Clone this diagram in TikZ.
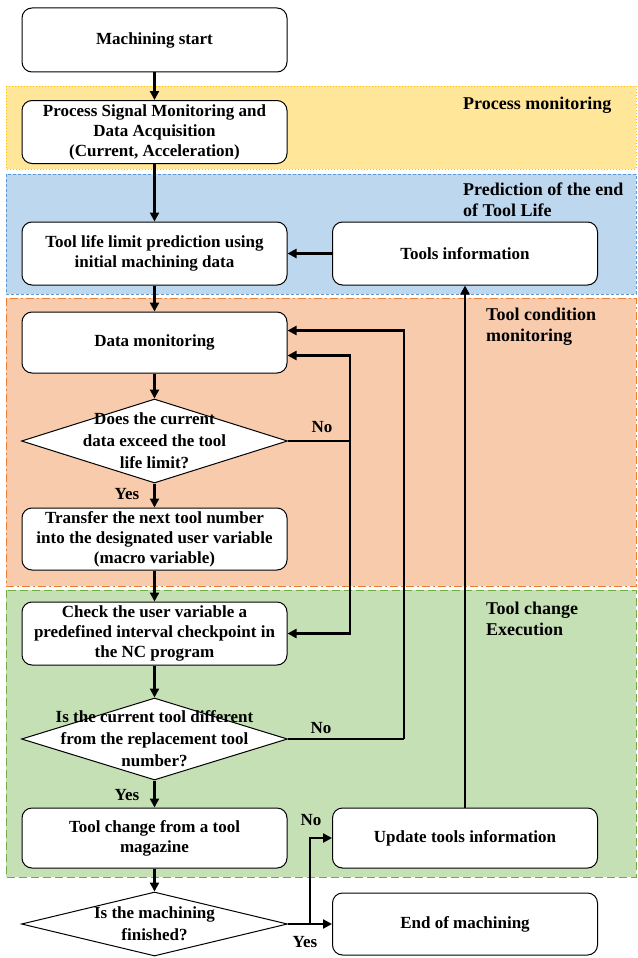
\documentclass[tikz,border=0pt]{standalone}
\usepackage{fontspec}
\setmainfont{Liberation Serif}
\usetikzlibrary{arrows.meta,shapes.geometric}
\definecolor{pmfill}{HTML}{FFE699}
\definecolor{pmline}{HTML}{FFC000}
\definecolor{plfill}{HTML}{BDD7EE}
\definecolor{plline}{HTML}{5B9BD5}
\definecolor{tcfill}{HTML}{F8CBAD}
\definecolor{tcline}{HTML}{ED7D31}
\definecolor{tefill}{HTML}{C5E0B4}
\definecolor{teline}{HTML}{70AD47}

\begin{document}
\begin{tikzpicture}[x=1pt,y=-1pt,
        box/.style={draw,line width=1pt,rounded corners=10pt,fill=white,minimum width=265pt,minimum height=63pt,
            align=center,inner sep=1pt,font=\fontsize{17}{20}\selectfont\bfseries},
        decision/.style={draw,line width=1pt,diamond,fill=white,minimum width=266pt,minimum height=84pt,inner sep=0pt},
        dtext/.style={align=center,font=\fontsize{17}{22}\selectfont\bfseries},
        tag/.style={font=\fontsize{17}{20}\selectfont\bfseries},
        zone/.style={line width=1pt},
        zonetext/.style={align=left,anchor=west,inner sep=0pt,font=\fontsize{18}{21}\selectfont\bfseries},
        flow/.style={line width=2.2pt,-{Triangle[length=9pt,width=9pt]}},
        line/.style={line width=2.2pt}]
            \useasboundingbox (0,0) rectangle (637,958);

            \draw[zone,fill=pmfill,draw=pmline,dotted] (6,86) rectangle (636,169);
            \draw[zone,fill=plfill,draw=plline,dash pattern=on 3pt off 2pt] (6,174) rectangle (636,294);
            \draw[zone,fill=tcfill,draw=tcline,dash pattern=on 8pt off 3pt on 2pt off 3pt] (6,298) rectangle (636,586);
            \draw[zone,fill=tefill,draw=teline,dash pattern=on 8pt off 4pt] (6,590) rectangle (636,877);

            \node[zonetext] (pmlabel) at (463,105) {Process monitoring};
            \node[zonetext] (pllabel) at (463,200) {Prediction of the end\\of Tool Life};
            \node[zonetext] (tclabel) at (486,327) {Tool condition\\monitoring};
            \node[zonetext] (telabel) at (486,619) {Tool change\\Execution};

            \node[box,minimum height=64pt] (start) at (154.5,40) {Machining start};
            \node[box] (psm) at (154.5,132) {Process Signal Monitoring and\\Data Acquisition\\(Current, Acceleration)};
            \node[box] (pred) at (154.5,253.5) {Tool life limit prediction using\\initial machining data};
            \node[box] (tinfo) at (465,253.5) {Tools information};
            \node[box,minimum height=61pt] (dmon) at (154.5,342.5) {Data monitoring};
            \node[decision] (d1) at (154.5,441) {};
            \node[dtext] (d1txt) at (154.5,441) {Does the current\\data exceed the tool\\life limit?};
            \node[box,minimum height=62pt] (xfer) at (154.5,539) {Transfer the next tool number\\into the designated user variable\\(macro variable)};
            \node[box] (chk) at (154.5,633.5) {Check the user variable a\\predefined interval checkpoint in\\the NC program};
            \node[decision,minimum height=82pt] (d2) at (154.5,739) {};
            \node[dtext] (d2txt) at (154.5,739) {Is the current tool different\\from the replacement tool\\number?};
            \node[box,minimum height=60pt] (tchg) at (154.5,838) {Tool change from a tool\\magazine};
            \node[box,minimum height=60pt] (upd) at (465,838) {Update tools information};
            \node[decision,minimum height=64pt] (d3) at (154.5,924) {};
            \node[dtext] (d3txt) at (154.5,924) {Is the machining\\finished?};
            \node[box,minimum height=62pt] (endm) at (465,924) {End of machining};

            \coordinate (j1) at (350,441);
            \coordinate (j2) at (404,739);
            \coordinate (j3) at (310,924);

            \draw[flow] (start) -- (psm);
            \draw[flow] (psm) -- (pred);
            \draw[flow] (tinfo) -- (pred);
            \draw[flow] (pred) -- (dmon);
            \draw[flow] (dmon) -- (d1);
            \draw[flow] (d1) -- (xfer);
            \draw[flow] (xfer) -- (chk);
            \draw[flow] (chk) -- (d2);
            \draw[flow] (d2) -- (tchg);
            \draw[flow] (tchg) -- (d3);
            \draw[flow] (d3) -- (endm);
            \draw[flow] (upd) -- (tinfo);

            \draw[line] (d1.east) -- (j1);
            \draw[flow] (j1) |- ([yshift=-13pt]dmon.east);
            \draw[flow] (j1) |- (chk.east);
            \draw[line] (d2.east) -- (j2);
            \draw[flow] (j2) |- ([yshift=12pt]dmon.east);
            \draw[flow] (j3) |- (upd.west);

            \node[tag] (no1) at (322,427) {No};
            \node[tag] (yes1) at (127,494) {Yes};
            \node[tag] (no2) at (321,728) {No};
            \node[tag] (yes2) at (127,795) {Yes};
            \node[tag] (no3) at (311,820) {No};
            \node[tag] (yes3) at (305,942) {Yes};
        \end{tikzpicture}
\end{document}
